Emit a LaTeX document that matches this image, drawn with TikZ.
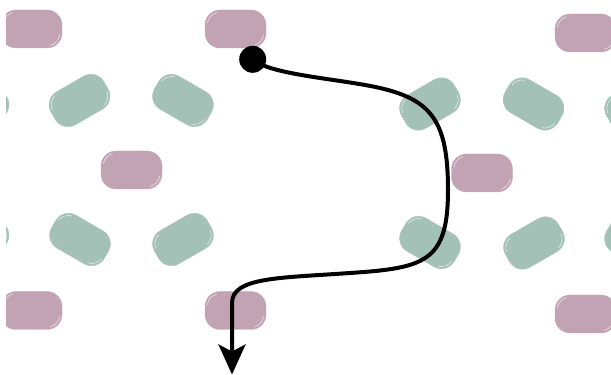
\documentclass[tikz,border=0pt]{standalone}
\usetikzlibrary{arrows.meta}
\definecolor{pinkpill}{HTML}{C1A3B3}
\definecolor{greenpill}{HTML}{A3C1B6}
\tikzset{
  pillbase/.style={shape=rectangle, rounded corners=15pt,
    minimum width=61pt, minimum height=38pt, inner sep=0pt, line width=0.4pt},
  pinkbox/.style={pillbase, fill=pinkpill, draw=pinkpill!88!white},
  greenbox/.style={pillbase, fill=greenpill, draw=greenpill!88!white},
  hl/.style={draw=white, opacity=0.7, line width=0.6pt},
  dotnode/.style={circle, fill=black, minimum size=27pt, inner sep=0pt},
  route/.style={line width=4pt, -{Stealth[length=30pt, width=27pt, inset=7pt]}}
}
\newcommand\pill[5]{%
  \node[#5, rotate=#4] (#1) at (#2,#3) {};
  \begin{scope}[shift={(#1.center)}, rotate=#4]
    \draw[hl] (-15.5,4) ++(172:12.8) arc[start angle=172, end angle=105, radius=12.8pt];
    \draw[hl] (15.5,-4) ++(-8:12.8) arc[start angle=-8, end angle=-75, radius=12.8pt];
  \end{scope}}
\begin{document}
\begin{tikzpicture}[x=1pt, y=1pt]
\useasboundingbox (0,0) rectangle (611,375);
\fill[white] (0,0) rectangle (611,375);
\clip (6,0) rectangle (611,375);
% pink pills
\pill{p1}{31.5}{346}{0}{pinkbox}
\pill{p2}{235.5}{346}{0}{pinkbox}
\pill{p3}{131.5}{205}{0}{pinkbox}
\pill{p4}{31.5}{64.5}{0}{pinkbox}
\pill{p5}{235.5}{64.5}{0}{pinkbox}
\pill{p6}{585.5}{342}{0}{pinkbox}
\pill{p7}{482}{202}{0}{pinkbox}
\pill{p8}{585.5}{61}{0}{pinkbox}
% green pills
\pill{g1}{79.5}{274.5}{30}{greenbox}
\pill{g2}{183}{274.5}{-30}{greenbox}
\pill{g3}{80}{135.5}{-30}{greenbox}
\pill{g4}{183}{135.5}{30}{greenbox}
\pill{g5}{430}{271}{30}{greenbox}
\pill{g6}{533.5}{271}{-30}{greenbox}
\pill{g7}{430}{132.5}{-30}{greenbox}
\pill{g8}{534}{132}{30}{greenbox}
\pill{g9}{-21.5}{274.5}{-30}{greenbox}
\pill{g10}{-21.5}{135.5}{30}{greenbox}
\pill{g11}{635}{271}{30}{greenbox}
\pill{g12}{635}{132}{-30}{greenbox}
% route
\node[dotnode] (d) at (252.7,315.7) {};
\coordinate (e) at (232,0.5);
\draw[route] (d.center) .. controls (270,300) and (340,296.2) .. (380,287)
  .. controls (432,275) and (448,253) .. (448,185)
  .. controls (448,113) and (425,107) .. (350,102)
  .. controls (280,97) and (232,98) .. (232,72)
  -- (e);
\end{tikzpicture}
\end{document}
